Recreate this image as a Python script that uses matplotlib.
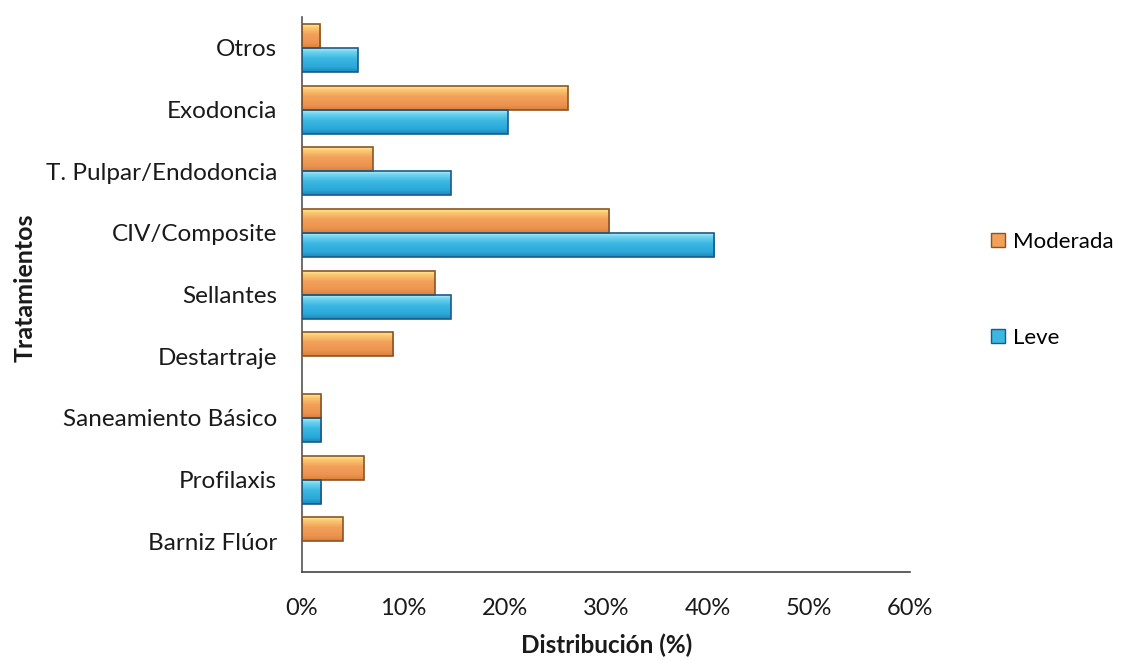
import numpy as np
import matplotlib
matplotlib.use("Agg")
import matplotlib.pyplot as plt
from matplotlib.patches import Patch
from matplotlib.colors import to_rgb

plt.rcParams['font.family'] = ['Lato', 'DejaVu Sans']

tratamientos = ['Barniz Flúor', 'Profilaxis', 'Saneamiento Básico', 'Destartraje',
                'Sellantes', 'CIV/Composite', 'T. Pulpar/Endodoncia', 'Exodoncia', 'Otros']
moderada = [4.0, 6.1, 1.9, 9.0, 13.1, 30.3, 7.0, 26.2, 1.8]
leve = [0.0, 1.9, 1.9, 0.0, 14.7, 40.7, 14.7, 20.3, 5.5]
xticks = [0, 10, 20, 30, 40, 50, 60]

# colour stops from top to bottom of each bar, plus edge colour
estilo = {
    'Moderada': (['#fff3a0', '#fbc870', '#f2a15a', '#ec9350', '#d9803a'], '#8a5526'),
    'Leve': (['#c8f4fb', '#6fd3ef', '#3bb8e2', '#2aa8d8', '#1c88bd'], '#1d5a86'),
}

def gradiente(stops, n=64):
    rgb = np.array([to_rgb(c) for c in stops])
    pos = np.array([0.0, 0.18, 0.45, 0.8, 1.0])
    t = np.linspace(0, 1, n)
    g = np.stack([np.interp(t, pos, rgb[:, k]) for k in range(3)], axis=1)
    return g[:, None, :]

fig = plt.figure(figsize=(11.27, 6.6), dpi=100)
ax = fig.add_axes([0.268, 0.1333, 0.5395, 0.8407])

y = np.arange(len(tratamientos))
h = 0.39
for vals, off, nombre in [(moderada, h / 2, 'Moderada'), (leve, -h / 2, 'Leve')]:
    stops, borde = estilo[nombre]
    img = gradiente(stops)
    bars = ax.barh(y + off, vals, height=h, facecolor='none', edgecolor=borde,
                   linewidth=1.2, zorder=3)
    for b in bars:
        if b.get_width() <= 0:
            b.set_visible(False)
            continue
        x0, y0 = b.get_x(), b.get_y()
        x1, y1 = x0 + b.get_width(), y0 + b.get_height()
        im = ax.imshow(img, extent=[x0, x1, y0, y1], aspect='auto', zorder=2,
                       interpolation='bilinear')
        im.set_clip_path(b)

ax.set_xlim(0, 60)
ax.set_ylim(-0.5, len(tratamientos) - 0.5)
ax.set_xticks(xticks)
ax.set_xticklabels([f'{v}%' for v in xticks])
ax.set_yticks(y)
ax.set_yticklabels(tratamientos)
ax.tick_params(axis='both', length=0, colors='#1a1a1a')
ax.tick_params(axis='x', pad=19, labelsize=17)
ax.tick_params(axis='y', pad=18, labelsize=17.5)

for s in ['top', 'right']:
    ax.spines[s].set_visible(False)
ax.spines['left'].set_color('#555555')
ax.spines['bottom'].set_color('#444444')
ax.spines['left'].set_linewidth(1.2)
ax.spines['bottom'].set_linewidth(1.2)

fig.text(607 / 1127, 1 - 645 / 660, 'Distribución (%)', fontsize=17.5,
         fontweight='bold', ha='center', va='center', color='#1a1a1a')
fig.text(25 / 1127, 1 - 288 / 660, 'Tratamientos', rotation=90, fontsize=18,
         fontweight='bold', ha='center', va='center', color='#1a1a1a')

handles = [Patch(facecolor=estilo['Moderada'][0][2], edgecolor=estilo['Moderada'][1]),
           Patch(facecolor=estilo['Leve'][0][2], edgecolor=estilo['Leve'][1])]
fig.legend(handles, ['Moderada', 'Leve'], loc='center left',
           bbox_to_anchor=(0.862, 0.561), frameon=False, fontsize=16,
           handlelength=0.6, handleheight=0.6, handletextpad=0.35,
           labelspacing=3.4)

fig.savefig('out.png', dpi=100)
